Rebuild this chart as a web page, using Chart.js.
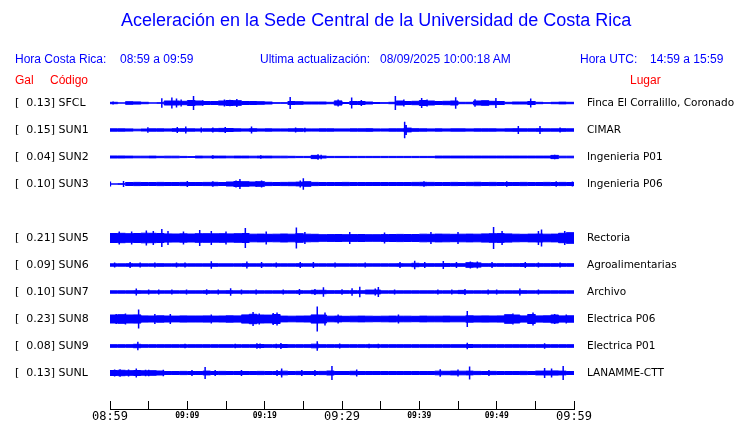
<!DOCTYPE html>
<html><head><meta charset="utf-8">
<script src="https://cdn.jsdelivr.net/npm/chart.js@4.4.1/dist/chart.umd.min.js"></script>
<style>
html,body{margin:0;padding:0;background:#fff;}
#wrap{position:relative;width:740px;height:423px;overflow:hidden;background:#fff;}
#c{position:absolute;left:0;top:0;}
.t{position:absolute;white-space:pre;font-family:'Liberation Sans',Arial,sans-serif;font-size:12px;line-height:14px;color:#0000ff;}
.r{color:#ff0000;}
</style></head><body>
<div id="wrap">
<canvas id="c" width="740" height="423"></canvas>
<div class="t" style="left:121px;top:10px;font-size:18px;line-height:20px;">Aceleración en la Sede Central de la Universidad de Costa Rica</div>
<div class="t" style="left:15px;top:52px;">Hora Costa Rica:</div>
<div class="t" style="left:120px;top:52px;">08:59 a 09:59</div>
<div class="t" style="left:260px;top:52px;">Ultima actualización:</div>
<div class="t" style="left:380px;top:52px;">08/09/2025 10:00:18 AM</div>
<div class="t" style="left:580px;top:52px;">Hora UTC:</div>
<div class="t" style="left:650px;top:52px;">14:59 a 15:59</div>
<div class="t r" style="left:15px;top:73px;">Gal</div>
<div class="t r" style="left:50px;top:73px;">Código</div>
<div class="t r" style="left:630px;top:73px;">Lugar</div>
</div>
<script>
// ---- data ----
const codes  = ['SFCL','SUN1','SUN2','SUN3','','SUN5','SUN6','SUN7','SUN8','SUN9','SUNL'];
const galPk  = ['0.13','0.15','0.04','0.10','','0.21','0.09','0.10','0.23','0.08','0.13'];
const places = ['Finca El Corralillo, Coronado','CIMAR','Ingenieria P01','Ingenieria P06','','Rectoria','Agroalimentarias','Archivo','Electrica P06','Electrica P01','LANAMME-CTT'];
const tickMinutes = [0,5,10,15,20,25,30,35,40,45,50,55,60];
const tickLabels  = ['08:59','','09:09','','09:19','','09:29','','09:39','','09:49','','09:59'];
const bigTicks    = [0,30,60];

// per-minute envelope half-amplitude of each trace
const ampSFCL = [1.2,0.6,1.8,1.6,1.2,0.6,0.8,2.5,2.5,2.2, 3.0,2.5,2.0,2.0,2.5,3.0,2.8,2.0,2.0,1.8, 1.5,0.8,0.8,2.0,1.8,1.5,1.5,1.5,1.2,2.6, 1.0,2.0,2.0,1.5,1.0,0.8,1.2,2.5,2.0,2.2, 3.0,2.5,2.0,2.2,2.5,1.2,1.2,2.5,2.8,2.2, 2.0,1.2,1.5,1.5,2.0,1.2,0.8,1.2,1.4,1.2];
const ampSUN1 = [1.7,1.7,1.6,1.3,1.5,1.7,1.7,1.6,1.8,1.8, 1.7,1.6,1.7,1.8,2.1,2.0,1.7,1.6,1.8,1.6, 1.7,1.6,1.6,1.7,1.8,1.6,1.6,1.7,1.7,1.6, 1.6,1.7,1.7,1.8,1.6,1.6,1.7,1.7,2.4,1.8, 1.7,1.6,1.7,1.6,1.7,1.7,1.6,1.7,1.7,1.7, 1.6,1.7,1.8,1.7,1.7,1.8,1.7,1.7,1.8,1.7];
const ampSUN2 = [1.5,1.5,1.4,1.3,1.3,1.4,1.2,1.3,1.3,1.1, 0.9,1.4,1.3,1.4,1.4,1.3,1.4,1.4,1.3,1.4, 1.4,1.3,1.3,1.2,1.1,1.1,2.1,1.5,1.1,1.1, 1.1,1.1,1.1,1.1,1.1,1.1,1.1,1.1,1.1,1.1, 1.1,1.1,1.4,1.4,1.4,1.4,1.4,1.4,1.4,1.4, 1.4,1.4,1.4,1.4,1.4,1.4,1.4,2.1,1.3,1.3];
const ampSUN3 = [0.5,0.8,2.0,2.1,2.0,2.0,2.1,2.0,2.0,2.1, 2.0,2.0,2.1,2.2,2.0,2.5,3.0,2.8,2.5,2.8, 2.1,2.0,2.1,2.2,2.4,2.8,2.1,2.0,2.0,2.0, 2.1,2.0,2.0,2.0,2.0,2.0,2.0,2.0,2.0,2.1, 2.2,2.1,2.0,2.0,2.1,2.0,2.1,2.2,2.0,2.1, 2.0,2.0,2.0,2.1,2.0,2.0,2.1,2.0,2.1,2.0];
const ampSUN5 = [5.0,5.2,4.8,5.0,5.3,5.2,5.0,4.6,4.5,4.7, 4.5,4.8,4.8,4.7,4.8,4.6,4.8,5.0,4.3,4.4, 4.2,4.3,4.5,4.3,4.8,4.3,4.2,3.8,3.9,4.0, 3.8,3.9,4.0,3.8,3.8,3.9,4.0,4.1,4.0,4.0, 4.3,4.2,4.4,4.3,4.2,4.3,4.4,4.3,4.6,4.8, 4.9,4.6,4.3,4.2,4.4,4.5,4.3,4.4,5.2,5.8];
const ampSUN6 = [1.7,1.7,1.8,1.7,1.7,1.7,1.8,1.7,1.7,1.7, 1.7,1.7,1.7,1.8,1.7,1.7,1.7,1.8,1.7,1.7, 1.7,1.7,1.7,1.7,1.8,1.7,1.7,1.7,1.7,1.7, 1.7,1.7,1.7,1.7,1.7,1.7,1.7,1.8,1.7,2.2, 1.8,1.8,1.8,1.9,1.8,1.8,2.8,2.6,1.8,1.8, 1.8,1.8,1.8,1.9,1.8,1.8,1.8,1.8,1.8,1.8];
const ampSUN7 = [1.7,1.7,1.7,1.8,1.7,1.7,1.7,1.7,1.7,1.7, 1.7,1.7,1.8,1.7,1.7,1.8,1.7,1.7,1.7,1.7, 1.7,1.7,1.7,1.7,1.8,1.7,2.2,2.2,1.8,1.8, 1.8,1.8,1.8,2.4,2.4,1.7,1.7,1.7,1.7,1.7, 1.7,1.7,1.7,1.7,1.7,2.1,1.7,1.7,1.7,1.7, 1.7,1.7,1.7,1.8,1.7,1.7,1.7,1.7,1.7,1.7];
const ampSUN8 = [4.5,4.8,4.5,4.6,3.6,3.5,3.7,3.5,3.4,3.6, 3.5,3.5,3.6,3.4,3.5,3.7,3.6,4.6,5.2,4.5, 4.4,5.0,3.4,3.3,3.4,3.5,4.6,4.5,3.3,3.4, 3.2,3.3,3.4,3.3,3.2,3.3,3.4,3.3,3.3,3.2, 3.4,3.3,3.3,3.4,3.3,3.3,3.7,3.5,3.6,3.5, 3.6,4.8,4.5,3.6,5.0,3.6,3.7,4.5,3.6,3.7];
const ampSUN9 = [1.8,1.8,1.8,2.2,1.8,1.8,1.8,1.8,1.8,1.8, 1.8,1.8,1.8,1.8,1.8,1.8,1.8,1.8,1.8,2.0, 1.8,1.8,2.0,1.8,1.8,1.8,2.3,1.8,1.8,1.8, 1.8,1.8,1.8,1.8,1.8,1.8,1.8,1.8,1.8,1.8, 1.8,1.8,1.8,1.8,1.8,1.8,2.0,1.8,1.8,1.8, 1.8,1.8,1.8,1.8,1.8,1.8,1.8,1.8,1.8,1.8];
const ampSUNL = [3.0,3.2,2.8,3.0,2.7,2.8,2.5,2.0,2.0,2.1, 2.0,2.0,2.4,2.0,2.1,2.0,2.0,2.0,2.0,2.1, 2.0,2.0,2.3,2.0,2.1,2.0,2.0,2.1,2.5,2.0, 2.0,2.2,2.0,2.0,2.0,2.0,2.0,2.0,2.0,2.0, 2.0,2.0,2.3,2.2,2.4,2.3,2.4,2.1,2.0,2.1, 2.0,2.0,2.0,2.1,2.0,2.4,2.5,2.6,2.4,2.0];

// isolated peaks: [minute, half-amplitude]
const pkSFCL = [[0.4,1.5],[6.7,4.7],[8.0,5.5],[8.6,4.5],[9.2,3.5],[10.8,7],[12.0,2.8],[14.8,3.5],[15.5,3.2],[16.4,4],[23.3,6],[29.5,3.5],[31.25,5.5],[32.5,3],[36.9,7],[38.0,3.5],[40.3,5],[41.0,3.5],[44.7,5.8],[47.2,3.8],[49.9,5],[54.4,4.5]];
const pkSUN1 = [[4.9,2.7],[8.7,3],[9.8,3.5],[11.8,2.5],[13.3,2.5],[14.9,3],[18.3,3.5],[24.0,2.5],[25.2,2.2],[38.1,8.3],[38.3,5],[52.8,4],[55.6,4],[58.2,2.5]];
const pkSUN2 = [[13.3,1.8],[19.5,1.8],[26.9,2.8],[27.3,2.2],[57.5,2.3]];
const pkSUN3 = [[0.05,2.5],[1.75,3],[10.0,3],[13.3,2.8],[16.3,3.5],[16.8,5],[18.9,3],[19.6,3.5],[24.6,3.5],[25.0,5.8],[40.6,2.8],[51.3,2.8],[57.7,2.8],[59.8,2.5]];
const pkSUN5 = [[1.2,6.5],[2.8,6.5],[4.7,7.5],[5.6,7],[6.7,9],[7.5,7],[9.5,6.5],[11.6,8],[13.1,7],[15.0,6.5],[17.5,10],[20.2,6.5],[24.1,10.5],[25.2,6],[31.0,6],[35.5,5.5],[41.5,6],[45.0,6],[49.6,11],[50.7,7],[55.4,7],[55.8,8.5],[58.8,7]];
const pkSUN6 = [[0.6,2.5],[2.6,3],[3.9,2.5],[5.8,2.5],[8.6,2.5],[9.7,2.5],[13.1,3.7],[17.7,3.5],[19.6,3],[21.5,2.5],[24.6,3],[26.3,3],[29.1,2.5],[33.0,2.5],[37.5,3],[39.4,4.3],[40.7,3],[43.1,4],[44.8,3],[46.6,3.5],[47.5,3.5],[49.4,3],[53.7,3],[55.4,2.5],[58.2,2.5]];
const pkSUN7 = [[3.4,3.5],[5.0,2.5],[6.3,2.5],[8.0,2.5],[9.9,2.5],[12.5,2.8],[14.0,2.5],[15.6,3.7],[17.0,2.5],[18.9,2.5],[22.4,2.5],[24.5,3],[26.5,3],[27.6,4.7],[30.0,2.8],[31.3,3.7],[32.3,5.2],[34.3,3.5],[34.7,5],[36.8,2.5],[42.4,2.5],[44.2,2.5],[45.9,3],[48.9,2.5],[50.0,2.5],[53.0,3.5],[55.4,2.5]];
const pkSUN8 = [[0.8,5],[2.0,5.5],[3.7,9.5],[5.8,5],[7.8,5],[13.1,4.5],[18.5,7],[19.3,5.5],[21.1,6],[21.6,6.5],[26.8,12.5],[27.8,6.5],[29.5,4.5],[37.3,4.5],[46.2,8],[52.1,5.5],[54.7,6.5],[57.5,5],[59.0,4.5]];
const pkSUN9 = [[3.6,4.2],[9.7,2.3],[16.2,2.3],[19.0,2.7],[19.4,2.5],[21.5,2.3],[22.1,3],[26.8,4.8],[29.7,2.5],[33.5,2.3],[34.7,2.3],[46.2,3.2],[56.2,2.7]];
const pkSUNL = [[0.6,3.5],[1.3,3.8],[2.4,3.5],[3.4,4.5],[4.6,3.2],[5.0,3.2],[6.9,3.2],[10.6,3],[12.3,6],[13.6,3],[17.0,3],[21.6,3],[22.2,4.5],[24.8,3],[26.5,3],[28.7,7],[31.9,3.5],[42.7,3.8],[45.0,3.5],[46.5,6.5],[49.0,3],[56.2,5],[57.1,4.5],[58.6,7]];

// ---- build ----
const BLUE = '#0000ff';
const SLOT_PX = 27;
const envs  = [ampSFCL, ampSUN1, ampSUN2, ampSUN3, null, ampSUN5, ampSUN6, ampSUN7, ampSUN8, ampSUN9, ampSUNL];
const peaks = [pkSFCL, pkSUN1, pkSUN2, pkSUN3, null, pkSUN5, pkSUN6, pkSUN7, pkSUN8, pkSUN9, pkSUNL];
const leftLabels = codes.map((c, i) => c ? `[  ${galPk[i]}] ${c}` : '');

const datasets = [];
envs.forEach((env, slot) => {
  if (!env) return;
  const up = [], lo = [];
  env.forEach((a, m) => {
    const h = Math.max(a - 0.5, 0) / SLOT_PX;
    up.push({x: m, y: slot - h});
    lo.push({x: m, y: slot + h});
  });
  up.push({x: env.length, y: up[up.length - 1].y});
  lo.push({x: env.length, y: lo[lo.length - 1].y});
  datasets.push({data: up, borderColor: BLUE, backgroundColor: BLUE, borderWidth: 1, fill: '+1', stepped: true, pointRadius: 0});
  datasets.push({data: lo, borderColor: BLUE, backgroundColor: BLUE, borderWidth: 1, fill: false, stepped: true, pointRadius: 0});
});
const spikePts = [];
peaks.forEach((list, slot) => {
  if (!list) return;
  list.forEach(([m, a]) => {
    spikePts.push({x: m, y: slot - a / SLOT_PX}, {x: m, y: slot + a / SLOT_PX}, {x: m, y: null});
  });
});
datasets.push({data: spikePts, borderColor: BLUE, borderWidth: 1.5, fill: false, pointRadius: 0, spanGaps: false});

const Y_MIN = -13 / SLOT_PX, Y_MAX = 306 / SLOT_PX;

new Chart(document.getElementById('c'), {
  type: 'line',
  data: {datasets},
  options: {
    responsive: false, animation: false, devicePixelRatio: 1,
    layout: {padding: {left: 15, top: 90, right: 0, bottom: 0}},
    plugins: {legend: {display: false}, tooltip: {enabled: false}, title: {display: false}},
    elements: {point: {radius: 0}, line: {tension: 0}},
    scales: {
      x: {
        type: 'linear', position: 'bottom', min: 0, max: 60,
        afterBuildTicks: s => { s.ticks = tickMinutes.map(v => ({value: v})); },
        afterFit: s => { s.height = 14; },
        grid: {drawOnChartArea: false, drawTicks: true, tickLength: -8, color: '#000', lineWidth: 1},
        border: {display: true, color: '#000', width: 1},
        ticks: {
          autoSkip: false, maxRotation: 0, minRotation: 0, padding: 8.5, color: '#000',
          callback: (v, i) => tickLabels[i],
          font: ctx => bigTicks.includes(ctx.tick && ctx.tick.value)
            ? {family: 'DejaVu Sans Mono', size: 12, lineHeight: 1.2}
            : {family: 'DejaVu Sans Mono', size: 8, weight: 'bold', lineHeight: 1.6}
        }
      },
      y: {
        type: 'linear', position: 'left', reverse: true, min: Y_MIN, max: Y_MAX,
        afterBuildTicks: s => { s.ticks = codes.map((_, i) => ({value: i})); },
        afterFit: s => { s.width = 95; },
        grid: {display: false, drawTicks: false}, border: {display: false},
        ticks: {autoSkip: false, crossAlign: 'far', padding: 0, color: '#000',
          font: {family: 'DejaVu Sans', size: 11},
          callback: (v, i) => leftLabels[i]}
      },
      y2: {
        type: 'linear', position: 'right', reverse: true, min: Y_MIN, max: Y_MAX,
        afterBuildTicks: s => { s.ticks = places.map((_, i) => ({value: i})); },
        afterFit: s => { s.width = 166; },
        grid: {display: false, drawTicks: true, tickLength: 13}, border: {display: false},
        ticks: {autoSkip: false, crossAlign: 'near', padding: 0, color: '#000',
          font: {family: 'DejaVu Sans', size: 10.5},
          callback: (v, i) => places[i]}
      }
    }
  }
});
</script>
</body></html>
